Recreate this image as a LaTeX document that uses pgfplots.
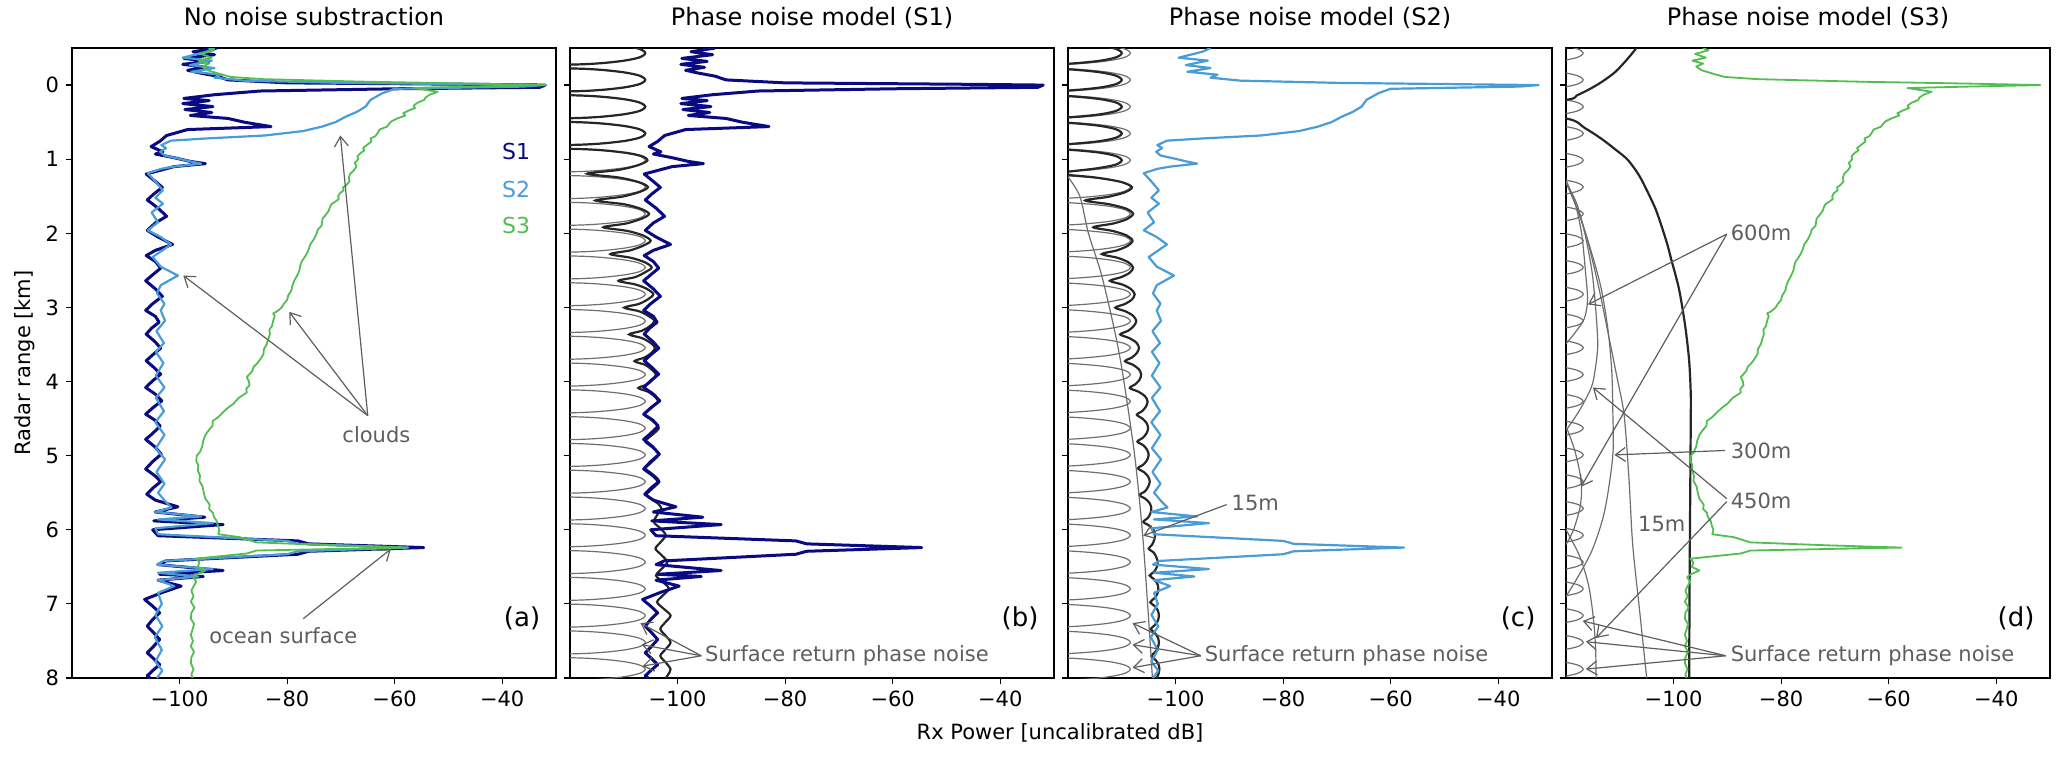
\documentclass[border=0pt]{standalone}
\usepackage{pgfplots}
\pgfplotsset{compat=1.18}
\usepackage{pgfplotstable}
\usepackage{fontspec}
\setmainfont{DejaVu Sans}
\usetikzlibrary{arrows.meta}
\definecolor{sone}{HTML}{0A0A82}
\definecolor{stwo}{HTML}{4A9CD6}
\definecolor{sthree}{HTML}{52BE52}
\definecolor{lobegray}{HTML}{6E6E6E}
\definecolor{darkline}{HTML}{262626}
\definecolor{anno}{HTML}{5E5E5E}

\pgfplotstableread{
x y
-93 -0.5
-97.5 -0.45
-93.5 -0.41
-99.2 -0.36
-94.5 -0.32
-99.4 -0.28
-95 -0.24
-98.5 -0.2
-96 -0.16
-93 -0.12
-91 -0.07
-80 -0.03
-45 -0.01
-32 0.0
-33 0.03
-60 0.05
-85 0.08
-93.5 0.13
-99.2 0.18
-94.5 0.21
-99.4 0.25
-93.8 0.29
-99 0.33
-94 0.37
-98 0.41
-91 0.45
-88 0.5
-83 0.56
-98.5 0.6
-102.4 0.68
-103.7 0.76
-105.3 0.83
-103.1 0.9
-104.5 0.93
-101 0.98
-98 1.03
-95.2 1.06
-101 1.1
-106.2 1.2
-104.5 1.3
-103.2 1.38
-104.8 1.47
-106 1.55
-104 1.66
-102.4 1.77
-104.5 1.86
-106 1.96
-104 2.05
-101.3 2.15
-104.5 2.23
-106.2 2.3
-104.5 2.38
-103.5 2.47
-105 2.56
-106.3 2.64
-104.5 2.75
-103.2 2.85
-105 2.95
-106.3 3.04
-104.5 3.12
-103.8 3.2
-105.2 3.28
-106.2 3.36
-104.6 3.46
-103.5 3.55
-105 3.64
-106.2 3.72
-104.6 3.82
-103.5 3.9
-105 3.99
-106.3 4.08
-104.5 4.17
-103.3 4.26
-104.9 4.35
-106.3 4.44
-104.6 4.52
-103.6 4.6
-105 4.7
-106.3 4.78
-104.6 4.88
-103.4 4.98
-105 5.08
-106.3 5.18
-104.6 5.27
-103.5 5.35
-105 5.44
-106.1 5.52
-104.5 5.6
-100.3 5.69
-104.5 5.76
-95.3 5.83
-104.8 5.88
-91.9 5.93
-105 6.0
-104 6.08
-78 6.15
-76 6.19
-54.6 6.24
-76 6.29
-78 6.33
-102.5 6.42
-104 6.47
-91.9 6.55
-103.7 6.6
-95.6 6.63
-104 6.68
-99.7 6.76
-103 6.84
-106.5 6.94
-105 7.03
-103.7 7.12
-105 7.21
-106 7.3
-104.8 7.39
-103.7 7.48
-104.8 7.57
-106 7.66
-104.8 7.74
-103.7 7.82
-105 7.9
-106 7.97
-105.5 8.0
}\sonetab

\pgfplotstableread{
x y
-93.5 -0.5
-95 -0.45
-99.4 -0.37
-94 -0.33
-98.1 -0.27
-93.5 -0.23
-97.8 -0.18
-92.2 -0.14
-93.5 -0.1
-88 -0.06
-70 -0.03
-45 -0.01
-32.5 0.0
-36 0.02
-60 0.05
-62.3 0.11
-64.5 0.2
-65.4 0.29
-67 0.36
-69.2 0.43
-71 0.5
-73.5 0.56
-77 0.62
-84.1 0.68
-95 0.72
-101.6 0.75
-103.4 0.81
-102.5 0.85
-103.6 0.9
-102.8 0.95
-99.7 1.0
-98 1.03
-96 1.06
-101 1.1
-103.4 1.13
-105.9 1.19
-104.5 1.3
-103.1 1.42
-104.5 1.52
-103.1 1.6
-105.2 1.72
-104 1.85
-105.9 1.96
-103.5 2.05
-101.6 2.15
-105 2.32
-103.5 2.45
-100.3 2.57
-103.5 2.7
-104.2 2.81
-102.8 2.95
-103.5 3.04
-102.7 3.18
-104.3 3.32
-102.9 3.48
-104.4 3.6
-103 3.75
-104.4 3.92
-102.8 4.08
-104.4 4.22
-102.9 4.4
-104.5 4.55
-102.8 4.72
-104.4 4.9
-102.7 5.05
-104.3 5.22
-102.8 5.38
-104 5.5
-102.6 5.62
-101.5 5.7
-104.5 5.76
-96 5.82
-104 5.86
-93.8 5.91
-104.5 5.98
-104 6.06
-80 6.15
-78 6.19
-57.5 6.24
-78 6.29
-80 6.33
-103 6.42
-104.2 6.47
-93.8 6.53
-104 6.58
-96.5 6.63
-104 6.68
-101 6.76
-104 6.85
-103.3 7.0
-104.5 7.15
-103.2 7.3
-104.6 7.45
-103.3 7.62
-104.5 7.78
-103.2 7.9
-104.2 8.0
}\stwotab

\pgfplotstableread{
x y
-94.6 -0.5
-93.5 -0.47
-96 -0.42
-94 -0.37
-96.5 -0.33
-94.5 -0.29
-95.8 -0.25
-94.8 -0.2
-92.5 -0.15
-90.5 -0.11
-84.4 -0.08
-65 -0.045
-45 -0.02
-31.8 0.0
-45 0.02
-56.5 0.04
-52 0.09
-53.5 0.13
-54.3 0.17
-54.5 0.2
-55.8 0.24
-56.5 0.28
-56.2 0.31
-57.3 0.34
-58.4 0.38
-58.0 0.41
-59.5 0.45
-60.6 0.49
-61 0.52
-61.4 0.56
-62.8 0.6
-63.2 0.65
-63.6 0.69
-64.5 0.72
-64.3 0.76
-65 0.8
-65.9 0.85
-65.6 0.88
-66.4 0.92
-66.9 0.96
-66.8 1.0
-67.4 1.05
-67.1 1.1
-67.6 1.15
-68.3 1.2
-68.5 1.25
-68.4 1.3
-69 1.35
-69.6 1.38
-69.5 1.42
-70.2 1.46
-70.5 1.5
-70.4 1.54
-71.2 1.58
-71.8 1.61
-72 1.64
-72.3 1.7
-72.8 1.75
-73.4 1.8
-73.5 1.85
-73.6 1.9
-74.3 1.95
-74.5 2.0
-74.8 2.05
-75.2 2.1
-75.7 2.15
-76 2.22
-76.3 2.27
-76.8 2.33
-77.3 2.38
-77.6 2.45
-77.7 2.5
-78.2 2.58
-78.6 2.63
-79 2.7
-79.2 2.77
-79.8 2.84
-80 2.9
-80.6 2.95
-81 3.0
-81.8 3.05
-82.6 3.08
-82.3 3.12
-82.6 3.18
-82.8 3.25
-83.3 3.3
-83.2 3.36
-83.5 3.43
-83.8 3.5
-84.3 3.56
-84.4 3.63
-84.9 3.69
-85.5 3.75
-86.2 3.8
-86.5 3.86
-87.5 3.94
-87.1 4.0
-87 4.05
-87.6 4.1
-87.5 4.15
-89 4.22
-90 4.3
-91.1 4.36
-92 4.42
-92.8 4.48
-93.8 4.53
-93.9 4.6
-94.5 4.65
-95.2 4.72
-95.6 4.8
-95.8 4.88
-96.2 4.95
-96.8 5.0
-96.9 5.07
-96.5 5.13
-96.6 5.2
-96.2 5.27
-96.3 5.34
-95.7 5.42
-95.5 5.5
-95.2 5.58
-94.4 5.66
-94.5 5.72
-93.8 5.77
-93.6 5.83
-93.1 5.88
-92.9 5.94
-92.6 6.0
-92.8 6.06
-88.8 6.1
-85.7 6.17
-71.3 6.21
-57.6 6.24
-72 6.26
-85.7 6.28
-87.5 6.32
-96.9 6.39
-96.3 6.44
-96.6 6.5
-95.2 6.55
-96.8 6.6
-97.5 6.64
-96.9 6.7
-97.3 6.75
-97.8 6.82
-97.4 6.9
-97.9 6.97
-97.2 7.05
-97.8 7.12
-97.9 7.2
-97.3 7.27
-97.6 7.35
-97.9 7.42
-97.5 7.5
-97.9 7.57
-97.3 7.65
-97.8 7.72
-97.9 7.8
-97.4 7.88
-97.8 7.95
-97.6 8.0
}\sthreetab

\pgfplotstableread{
y xb xc xd
-0.612 -135 -135 -135
-0.581 -117.6 -120 -128.4
-0.541 -110.8 -113.2 -121.6
-0.491 -107.2 -109.6 -118
-0.431 -106 -108.4 -116.8
-0.371 -107.2 -109.6 -118
-0.321 -110.8 -113.2 -121.6
-0.281 -117.6 -120 -128.4
-0.250 -135 -135 -135
-0.220 -117.6 -120 -128.4
-0.180 -110.8 -113.2 -121.6
-0.130 -107.2 -109.6 -118
-0.070 -106 -108.4 -116.8
-0.010 -107.2 -109.6 -118
0.040 -110.8 -113.2 -121.6
0.080 -117.6 -120 -128.4
0.111 -135 -135 -135
0.142 -117.6 -120 -128.4
0.182 -110.8 -113.2 -121.6
0.232 -107.2 -109.6 -118
0.292 -106 -108.4 -116.8
0.352 -107.2 -109.6 -118
0.402 -110.8 -113.2 -121.6
0.442 -117.6 -120 -128.4
0.473 -135 -135 -135
0.503 -117.6 -120 -128.4
0.543 -110.8 -113.2 -121.6
0.593 -107.2 -109.6 -118
0.653 -106 -108.4 -116.8
0.713 -107.2 -109.6 -118
0.763 -110.8 -113.2 -121.6
0.803 -117.6 -120 -128.4
0.834 -135 -135 -135
0.865 -117.6 -120 -128.4
0.905 -110.8 -113.2 -121.6
0.955 -107.2 -109.6 -118
1.015 -106 -108.4 -116.8
1.075 -107.2 -109.6 -118
1.125 -110.8 -113.2 -121.6
1.165 -117.6 -120 -128.4
1.196 -135 -135 -135
1.226 -117.6 -120 -128.4
1.266 -110.8 -113.2 -121.6
1.316 -107.2 -109.6 -118
1.376 -106 -108.4 -116.8
1.436 -107.2 -109.6 -118
1.486 -110.8 -113.2 -121.6
1.526 -117.6 -120 -128.4
1.557 -135 -135 -135
1.587 -117.6 -120 -128.4
1.627 -110.8 -113.2 -121.6
1.677 -107.2 -109.6 -118
1.737 -106 -108.4 -116.8
1.797 -107.2 -109.6 -118
1.847 -110.8 -113.2 -121.6
1.887 -117.6 -120 -128.4
1.918 -135 -135 -135
1.949 -117.6 -120 -128.4
1.989 -110.8 -113.2 -121.6
2.039 -107.2 -109.6 -118
2.099 -106 -108.4 -116.8
2.159 -107.2 -109.6 -118
2.209 -110.8 -113.2 -121.6
2.249 -117.6 -120 -128.4
2.280 -135 -135 -135
2.310 -117.6 -120 -128.4
2.350 -110.8 -113.2 -121.6
2.400 -107.2 -109.6 -118
2.460 -106 -108.4 -116.8
2.520 -107.2 -109.6 -118
2.570 -110.8 -113.2 -121.6
2.610 -117.6 -120 -128.4
2.641 -135 -135 -135
2.672 -117.6 -120 -128.4
2.712 -110.8 -113.2 -121.6
2.762 -107.2 -109.6 -118
2.822 -106 -108.4 -116.8
2.882 -107.2 -109.6 -118
2.932 -110.8 -113.2 -121.6
2.972 -117.6 -120 -128.4
3.003 -135 -135 -135
3.033 -117.6 -120 -128.4
3.073 -110.8 -113.2 -121.6
3.123 -107.2 -109.6 -118
3.183 -106 -108.4 -116.8
3.243 -107.2 -109.6 -118
3.293 -110.8 -113.2 -121.6
3.333 -117.6 -120 -128.4
3.364 -135 -135 -135
3.394 -117.6 -120 -128.4
3.434 -110.8 -113.2 -121.6
3.484 -107.2 -109.6 -118
3.544 -106 -108.4 -116.8
3.604 -107.2 -109.6 -118
3.654 -110.8 -113.2 -121.6
3.694 -117.6 -120 -128.4
3.725 -135 -135 -135
3.756 -117.6 -120 -128.4
3.796 -110.8 -113.2 -121.6
3.846 -107.2 -109.6 -118
3.906 -106 -108.4 -116.8
3.966 -107.2 -109.6 -118
4.016 -110.8 -113.2 -121.6
4.056 -117.6 -120 -128.4
4.087 -135 -135 -135
4.117 -117.6 -120 -128.4
4.157 -110.8 -113.2 -121.6
4.207 -107.2 -109.6 -118
4.267 -106 -108.4 -116.8
4.327 -107.2 -109.6 -118
4.377 -110.8 -113.2 -121.6
4.417 -117.6 -120 -128.4
4.448 -135 -135 -135
4.479 -117.6 -120 -128.4
4.519 -110.8 -113.2 -121.6
4.569 -107.2 -109.6 -118
4.629 -106 -108.4 -116.8
4.689 -107.2 -109.6 -118
4.739 -110.8 -113.2 -121.6
4.779 -117.6 -120 -128.4
4.810 -135 -135 -135
4.840 -117.6 -120 -128.4
4.880 -110.8 -113.2 -121.6
4.930 -107.2 -109.6 -118
4.990 -106 -108.4 -116.8
5.050 -107.2 -109.6 -118
5.100 -110.8 -113.2 -121.6
5.140 -117.6 -120 -128.4
5.171 -135 -135 -135
5.201 -117.6 -120 -128.4
5.241 -110.8 -113.2 -121.6
5.291 -107.2 -109.6 -118
5.351 -106 -108.4 -116.8
5.411 -107.2 -109.6 -118
5.461 -110.8 -113.2 -121.6
5.501 -117.6 -120 -128.4
5.532 -135 -135 -135
5.563 -117.6 -120 -128.4
5.603 -110.8 -113.2 -121.6
5.653 -107.2 -109.6 -118
5.713 -106 -108.4 -116.8
5.773 -107.2 -109.6 -118
5.823 -110.8 -113.2 -121.6
5.863 -117.6 -120 -128.4
5.894 -135 -135 -135
5.924 -117.6 -120 -128.4
5.964 -110.8 -113.2 -121.6
6.014 -107.2 -109.6 -118
6.074 -106 -108.4 -116.8
6.134 -107.2 -109.6 -118
6.184 -110.8 -113.2 -121.6
6.224 -117.6 -120 -128.4
6.255 -135 -135 -135
6.286 -117.6 -120 -128.4
6.326 -110.8 -113.2 -121.6
6.376 -107.2 -109.6 -118
6.436 -106 -108.4 -116.8
6.496 -107.2 -109.6 -118
6.546 -110.8 -113.2 -121.6
6.586 -117.6 -120 -128.4
6.617 -135 -135 -135
6.647 -117.6 -120 -128.4
6.687 -110.8 -113.2 -121.6
6.737 -107.2 -109.6 -118
6.797 -106 -108.4 -116.8
6.857 -107.2 -109.6 -118
6.907 -110.8 -113.2 -121.6
6.947 -117.6 -120 -128.4
6.978 -135 -135 -135
7.008 -117.6 -120 -128.4
7.048 -110.8 -113.2 -121.6
7.098 -107.2 -109.6 -118
7.158 -106 -108.4 -116.8
7.218 -107.2 -109.6 -118
7.268 -110.8 -113.2 -121.6
7.308 -117.6 -120 -128.4
7.339 -135 -135 -135
7.370 -117.6 -120 -128.4
7.410 -110.8 -113.2 -121.6
7.460 -107.2 -109.6 -118
7.520 -106 -108.4 -116.8
7.580 -107.2 -109.6 -118
7.630 -110.8 -113.2 -121.6
7.670 -117.6 -120 -128.4
7.701 -135 -135 -135
7.731 -117.6 -120 -128.4
7.771 -110.8 -113.2 -121.6
7.821 -107.2 -109.6 -118
7.881 -106 -108.4 -116.8
7.941 -107.2 -109.6 -118
7.991 -110.8 -113.2 -121.6
8.031 -117.6 -120 -128.4
8.062 -135 -135 -135
}\lobes

\pgfplotstableread{
x y
-135 -0.612
-117.6 -0.581
-110.8 -0.541
-107.2 -0.491
-106 -0.431
-107.2 -0.371
-110.8 -0.321
-117.6 -0.281
-135 -0.25
-117.6 -0.22
-110.8 -0.18
-107.2 -0.13
-106 -0.07
-107.2 -0.01
-110.8 0.04
-117.6 0.08
-135 0.111
-117.6 0.142
-110.8 0.182
-107.2 0.232
-106 0.292
-107.2 0.352
-110.8 0.402
-117.6 0.442
-135 0.473
-117.6 0.503
-110.8 0.543
-107.2 0.593
-106 0.653
-107.2 0.713
-110.8 0.763
-117.6 0.803
-135 0.834
-117.4 0.865
-110.5 0.905
-106.8 0.955
-105.6 1.015
-107.3 1.08
-111 1.145
-116.8 1.196
-111 1.246
-107.2 1.31
-105.5 1.376
-107 1.44
-110.4 1.507
-115.3 1.557
-110 1.607
-106.8 1.67
-105.3 1.737
-106.6 1.8
-109.6 1.868
-113.8 1.918
-109.3 1.968
-106.4 2.03
-105 2.099
-106.2 2.16
-108.8 2.23
-112.5 2.28
-108.7 2.33
-106.1 2.39
-104.8 2.46
-105.9 2.52
-107.9 2.591
-111 2.641
-107.8 2.691
-105.7 2.75
-104.5 2.822
-105.5 2.89
-107.2 2.953
-109.9 3.003
-107.1 3.053
-105.3 3.12
-104.3 3.183
-105.1 3.25
-106.6 3.314
-109 3.364
-106.6 3.414
-105 3.48
-104.2 3.544
-104.8 3.61
-106.1 3.675
-108 3.725
-106 3.775
-104.8 3.84
-104 3.906
-104.6 3.97
-105.6 4.037
-107.3 4.087
-105.5 4.137
-104.3 4.2
-103.6 4.267
-104.5 4.33
-105.5 4.398
-106.2 4.448
-105.2 4.5
-104.2 4.56
-103.5 4.629
-104.4 4.7
-105.4 4.76
-106 4.81
-105 4.87
-104 4.93
-103.5 4.99
-104.4 5.06
-105.3 5.12
-106 5.171
-105 5.23
-104 5.29
-103.4 5.351
-104.3 5.42
-105.2 5.48
-105.8 5.532
-104.8 5.59
-103.6 5.65
-103 5.713
-103.6 5.78
-104.4 5.894
-103.2 5.98
-102.2 6.074
-103.2 6.17
-104.1 6.255
-103 6.34
-101.9 6.436
-103 6.53
-104 6.617
-102.8 6.7
-101.6 6.797
-102.8 6.89
-103.8 6.978
-102.5 7.07
-101.3 7.158
-102.3 7.25
-103.2 7.339
-102.2 7.43
-101.3 7.52
-102.2 7.61
-103.2 7.701
-102.2 7.79
-101.3 7.881
-101.8 7.96
-102.2 8.0
}\darkb

\pgfplotstableread{
x y
-135 -0.612
-121.6 -0.581
-114.8 -0.541
-111.2 -0.491
-110 -0.431
-111.2 -0.371
-114.8 -0.321
-121.6 -0.281
-135 -0.25
-121.6 -0.22
-114.8 -0.18
-111.2 -0.13
-110 -0.07
-111.2 -0.01
-114.8 0.04
-121.6 0.08
-135 0.111
-121.6 0.142
-114.8 0.182
-111.2 0.232
-110 0.292
-111.2 0.352
-114.8 0.402
-121.6 0.442
-135 0.473
-121.6 0.503
-114.8 0.543
-111.2 0.593
-110 0.653
-111.2 0.713
-114.8 0.763
-121.6 0.803
-135 0.834
-121.6 0.865
-114.8 0.905
-111.2 0.955
-110 1.015
-111.2 1.075
-114.8 1.125
-119.5 1.165
-122 1.196
-115 1.246
-110.2 1.306
-108.1 1.376
-109.4 1.446
-112.5 1.507
-116.8 1.557
-112.4 1.607
-109.2 1.667
-107.9 1.737
-109 1.807
-111.6 1.868
-115.3 1.918
-111.7 1.968
-109.1 2.029
-108 2.099
-108.9 2.169
-110.9 2.23
-113.7 2.28
-110.8 2.33
-108.8 2.39
-107.9 2.46
-108.5 2.53
-110.1 2.591
-112.2 2.641
-109.9 2.691
-108.3 2.752
-107.6 2.822
-108.1 2.892
-109.4 2.953
-111.2 3.003
-109.3 3.053
-107.9 3.113
-107.3 3.183
-107.8 3.253
-108.8 3.314
-110.3 3.364
-108.6 3.414
-107.3 3.474
-106.8 3.544
-107.2 3.614
-108.1 3.675
-109.4 3.725
-107.9 3.775
-106.8 3.836
-106.4 3.906
-106.7 3.976
-107.5 4.037
-108.5 4.087
-106.9 4.137
-105.7 4.197
-105.2 4.267
-105.5 4.337
-106.2 4.398
-107.2 4.448
-106.2 4.498
-105.4 4.559
-105.1 4.629
-105.4 4.699
-106.1 4.76
-107.1 4.81
-106 4.86
-105.3 4.92
-105 4.99
-105.3 5.06
-106 5.121
-107 5.171
-105.9 5.221
-105.1 5.281
-104.8 5.351
-105.1 5.421
-105.7 5.482
-106.7 5.532
-105.6 5.582
-104.8 5.643
-104.5 5.713
-104.7 5.783
-105.2 5.844
-106 5.894
-104.9 5.944
-104.1 6.004
-103.8 6.074
-104 6.144
-104.4 6.205
-105 6.255
-104.1 6.305
-103.6 6.366
-103.3 6.436
-103.5 6.506
-104 6.567
-104.8 6.617
-104 6.667
-103.4 6.727
-103.2 6.797
-103.4 6.867
-104 6.928
-104.7 6.978
-103.9 7.028
-103.3 7.088
-103.1 7.158
-103.3 7.228
-103.9 7.289
-104.6 7.339
-103.9 7.389
-103.3 7.45
-103.1 7.52
-103.3 7.59
-103.8 7.651
-104.5 7.701
-103.8 7.751
-103.2 7.811
-103 7.881
-103.2 7.95
-103.5 8.0
}\darkc

\pgfplotsset{
  panel/.style={
    scale only axis, width=242pt, height=315pt,
    xmin=-120, xmax=-30, ymin=-0.5, ymax=8, y dir=reverse,
    xtick={-100,-80,-60,-40}, xticklabels={−100,−80,−60,−40},
    ytick={0,1,2,3,4,5,6,7,8},
    tick align=outside, xtick pos=bottom, ytick pos=left,
    major tick length=3pt,
    every tick/.style={black, line width=0.6pt},
    axis line style={line width=0.7pt},
    tick label style={font=\fontsize{10.5}{12}\selectfont},
    title style={font=\fontsize{12}{14}\selectfont, at={(0.5,1)}, anchor=base, yshift=5.5pt},
    anchor=south west,
  },
}
\tikzset{
  annot/.style={text=anno, font=\fontsize{10.5}{12}\selectfont, inner sep=1pt},
  anarrow/.style={draw=anno, line width=0.6pt, -{Straight Barb[length=5pt,width=7pt]}},
  plabel/.style={font=\fontsize{13}{15}\selectfont},
}

\begin{document}
\begin{tikzpicture}
\useasboundingbox (-36pt,-42pt) rectangle (997.5pt,339pt);

% (a)
\begin{axis}[panel, at={(0pt,0pt)}, title={No noise substraction},
  yticklabels={0,1,2,3,4,5,6,7,8}]
\addplot[sone, line width=1.5pt, line join=round] table[x=x,y=y] {\sonetab};
\addplot[stwo, line width=1.1pt, line join=round] table[x=x,y=y] {\stwotab};
\addplot[sthree, line width=0.9pt, line join=round] table[x=x,y=y] {\sthreetab};
\node[text=sone, font=\fontsize{11}{13}\selectfont] at (axis cs:-37.4,0.9) {S1};
\node[text=stwo, font=\fontsize{11}{13}\selectfont] at (axis cs:-37.4,1.41) {S2};
\node[text=sthree, font=\fontsize{11}{13}\selectfont] at (axis cs:-37.4,1.9) {S3};
\draw[anarrow] (axis cs:-65,4.46) -- (axis cs:-99.3,2.57);
\draw[anarrow] (axis cs:-65,4.46) -- (axis cs:-79.6,3.06);
\draw[anarrow] (axis cs:-65,4.46) -- (axis cs:-70.1,0.68);
\node[annot] at (axis cs:-63.4,4.72) {clouds};
\draw[anarrow] (axis cs:-77,7.2) -- (axis cs:-60.7,6.26);
\node[annot] at (axis cs:-80.7,7.43) {ocean surface};
\node[plabel] at (axis cs:-36.3,7.2) {(a)};
\end{axis}

% (b)
\begin{axis}[panel, at={(249pt,0pt)}, title={Phase noise model (S1)}, yticklabels={}]
\addplot[lobegray, line width=0.6pt, smooth] table[x=xb,y=y] {\lobes};
\addplot[darkline, line width=1.1pt, smooth] table[x=x,y=y] {\darkb};
\addplot[sone, line width=1.5pt, line join=round] table[x=x,y=y] {\sonetab};
\draw[anarrow] (axis cs:-95.6,7.7) -- (axis cs:-106.9,7.26);
\draw[anarrow] (axis cs:-95.6,7.7) -- (axis cs:-106.7,7.55);
\draw[anarrow] (axis cs:-95.6,7.7) -- (axis cs:-106.5,7.84);
\node[annot, anchor=west] at (axis cs:-95.3,7.7) {Surface return phase noise};
\node[plabel] at (axis cs:-36.3,7.2) {(b)};
\end{axis}

% (c)
\begin{axis}[panel, at={(498pt,0pt)}, title={Phase noise model (S2)}, yticklabels={}]
\addplot[lobegray, line width=0.6pt, smooth] table[x=xc,y=y] {\lobes};
\addplot[darkline, line width=1.1pt, smooth] table[x=x,y=y] {\darkc};
\addplot[lobegray, line width=0.6pt, smooth] coordinates {(-120,1.24) (-117.8,1.5) (-116.2,2.0) (-114,2.5) (-112.3,3.0) (-110.8,3.5) (-109.6,4.0) (-107.6,5.0) (-106.2,6.0) (-105.2,7.0) (-104.3,8.0)};
\addplot[stwo, line width=1.1pt, line join=round] table[x=x,y=y] {\stwotab};
\draw[anarrow] (axis cs:-90.5,5.66) -- (axis cs:-106,6.08);
\node[annot, anchor=west] at (axis cs:-90,5.64) {15m};
\draw[anarrow] (axis cs:-95.3,7.7) -- (axis cs:-108,7.26);
\draw[anarrow] (axis cs:-95.3,7.7) -- (axis cs:-108,7.55);
\draw[anarrow] (axis cs:-95.3,7.7) -- (axis cs:-108,7.86);
\node[annot, anchor=west] at (axis cs:-95,7.7) {Surface return phase noise};
\node[plabel] at (axis cs:-36.3,7.2) {(c)};
\end{axis}

% (d)
\begin{axis}[panel, at={(747pt,0pt)}, title={Phase noise model (S3)}, yticklabels={}]
\addplot[lobegray, line width=0.6pt, smooth] table[x=xd,y=y] {\lobes};
\addplot[lobegray, line width=0.6pt, smooth] coordinates {(-120,1.28) (-118.3,1.6) (-117.1,2.0) (-116.4,2.5) (-116.0,2.9) (-116.6,3.15) (-118.2,3.33) (-120,3.49)};
\addplot[lobegray, line width=0.6pt, smooth] coordinates {(-120,4.6) (-118.5,4.9) (-117.5,5.2) (-117.1,5.45) (-117.4,5.7) (-118.6,6.0) (-120,6.2)};
\addplot[lobegray, line width=0.6pt, smooth] coordinates {(-120,1.31) (-118,1.6) (-116.5,2.0) (-115.2,2.5) (-114.5,3.0) (-114.1,3.5) (-114.6,3.85) (-115.3,4.08) (-117.5,4.39) (-120,4.66)};
\addplot[lobegray, line width=0.6pt, smooth] coordinates {(-120,6.0) (-117.5,6.35) (-115.8,6.75) (-114.9,7.2) (-114.5,7.6) (-114.4,8.0)};
\addplot[lobegray, line width=0.6pt, smooth] coordinates {(-120,1.31) (-117.5,1.75) (-115.5,2.2) (-113.5,2.73) (-112.2,3.3) (-111.5,3.85) (-111.3,4.39) (-111.3,5.0) (-112.8,5.74) (-115,6.25) (-117.5,6.6) (-120,6.9)};
\addplot[lobegray, line width=0.6pt, smooth] coordinates {(-120,1.31) (-118,1.65) (-116,2.1) (-114,2.7) (-112.3,3.3) (-110.5,3.95) (-109.2,4.45) (-108.3,5.3) (-107.6,6.2) (-106.3,7.1) (-105,8.0)};
\addplot[darkline, line width=1.1pt, smooth] coordinates {(-106.9,-0.5) (-108.6,-0.35) (-110.8,-0.18) (-113.2,-0.05) (-115.5,0.05) (-118,0.14) (-120,0.2) (-135,0.33) (-120,0.45) (-116.5,0.58) (-113.5,0.72) (-110.8,0.87) (-108.5,1.01) (-106.4,1.22) (-104.7,1.46) (-103.3,1.68) (-102.2,1.91) (-101.2,2.14) (-100.4,2.36) (-99.5,2.6) (-98.8,2.82) (-97.8,3.27) (-97.1,3.72) (-96.8,4.17) (-96.8,4.5) (-96.9,5.5) (-97,6.5) (-97.1,8.0)};
\addplot[sthree, line width=0.9pt, line join=round] table[x=x,y=y] {\sthreetab};
\draw[anarrow] (axis cs:-90.1,2.01) -- (axis cs:-115.9,2.96);
\draw[anarrow] (axis cs:-90.1,2.01) -- (axis cs:-117.2,5.42);
\node[annot, anchor=west] at (axis cs:-89.8,2.0) {600m};
\draw[anarrow] (axis cs:-90.4,4.93) -- (axis cs:-111,4.99);
\node[annot, anchor=west] at (axis cs:-89.8,4.93) {300m};
\draw[anarrow] (axis cs:-90.1,5.58) -- (axis cs:-115,4.08);
\draw[anarrow] (axis cs:-90.1,5.62) -- (axis cs:-114.4,7.46);
\node[annot, anchor=west] at (axis cs:-89.8,5.61) {450m};
\node[annot] at (axis cs:-102.2,5.92) {15m};
\draw[anarrow] (axis cs:-90.3,7.7) -- (axis cs:-116.9,7.23);
\draw[anarrow] (axis cs:-90.3,7.7) -- (axis cs:-116.3,7.51);
\draw[anarrow] (axis cs:-90.3,7.7) -- (axis cs:-116.3,7.88);
\node[annot, anchor=west] at (axis cs:-89.8,7.7) {Surface return phase noise};
\node[plabel] at (axis cs:-36.3,7.2) {(d)};
\end{axis}

\node[font=\fontsize{10.5}{12}\selectfont] at (494pt,-27.5pt) {Rx Power [uncalibrated dB]};
\node[font=\fontsize{10.5}{12}\selectfont, rotate=90] at (-23.5pt,157.5pt) {Radar range [km]};
\end{tikzpicture}
\end{document}
